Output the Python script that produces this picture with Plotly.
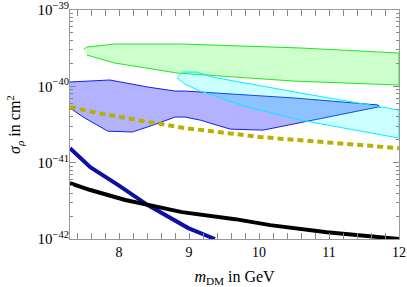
import plotly.graph_objects as go

# Green region (upper edge left->right, lower edge)
green_up_x = [7.50, 7.54, 7.94, 8.91, 10.59, 12.0]
green_up_y = [3.08e-40, 3.27e-40, 3.58e-40, 3.58e-40, 3.18e-40, 2.73e-40]
green_lo_x = [7.54, 7.94, 8.41, 8.84, 10.51, 12.0]
green_lo_y = [2.57e-40, 2.02e-40, 1.74e-40, 1.49e-40, 1.17e-40, 1.04e-40]

# Purple region
purple_up_x = [7.30, 7.87, 8.41, 8.80, 8.94, 10.51, 11.70, 11.73]
purple_up_y = [1.14e-40, 1.21e-40, 9.8e-41, 8.67e-41, 8.67e-41, 7.03e-41, 5.69e-41, 5.36e-41]
purple_lo_x = [7.30, 7.51, 7.84, 8.19, 8.49, 8.80, 8.94, 9.16, 9.59, 10.06, 10.59, 11.70]
purple_lo_y = [5.20e-41, 3.85e-41, 2.59e-41, 2.52e-41, 3.11e-41, 3.96e-41, 3.96e-41, 3.61e-41, 2.75e-41, 2.67e-41, 3.30e-41, 5.36e-41]

# Cyan region
cyan_up_x = [8.83, 8.91, 9.11, 9.34, 10.59, 12.0]
cyan_up_y = [1.32e-40, 1.54e-40, 1.54e-40, 1.32e-40, 8.17e-41, 4.89e-41]
cyan_lo_x = [8.83, 8.94, 9.16, 9.83, 10.59, 12.0]
cyan_lo_y = [1.29e-40, 1.07e-40, 8.67e-41, 5.36e-41, 3.61e-41, 2.10e-41]

# Dashed olive line
dash_x = [7.30, 7.70, 8.19, 8.61, 8.94, 10.01, 10.59, 12.0]
dash_y = [5.36e-41, 4.47e-41, 3.72e-41, 3.21e-41, 2.84e-41, 2.17e-41, 1.98e-41, 1.55e-41]

# Dark blue line
blue_x = [7.30, 7.59, 7.99, 8.41, 8.99, 9.37]
blue_y = [1.55e-41, 8.75e-42, 5.08e-42, 2.78e-42, 1.39e-42, 1.0e-42]

# Black line
black_x = [7.30, 7.59, 8.09, 8.41, 8.90, 9.66, 10.16, 10.97, 12.0]
black_y = [5.41e-42, 4.38e-42, 3.24e-42, 2.78e-42, 2.25e-42, 1.82e-42, 1.52e-42, 1.23e-42, 1.0e-42]

x_ticks = [8, 9, 10, 11, 12]
y_exps = [-42, -41, -40, -39]


def region(ux, uy, lx, ly, fill, line):
    return go.Scatter(x=ux + lx[::-1], y=uy + ly[::-1], mode="lines", fill="toself",
                      fillcolor=fill, line=dict(color=line, width=1), hoverinfo="skip",
                      showlegend=False)


fig = go.Figure()
fig.add_trace(region(green_up_x, green_up_y, green_lo_x, green_lo_y,
                     "rgba(0,255,0,0.2)", "rgb(30,230,30)"))
fig.add_trace(region(purple_up_x, purple_up_y, purple_lo_x, purple_lo_y,
                     "rgba(0,0,255,0.3)", "rgb(20,30,230)"))
fig.add_trace(region(cyan_up_x, cyan_up_y, cyan_lo_x, cyan_lo_y,
                     "rgba(0,255,255,0.2)", "rgb(0,240,250)"))
fig.add_trace(go.Scatter(x=dash_x, y=dash_y, mode="lines", showlegend=False,
                         line=dict(color="rgb(185,175,0)", width=4, dash="6px,4px")))
fig.add_trace(go.Scatter(x=blue_x, y=blue_y, mode="lines", showlegend=False,
                         line=dict(color="rgb(15,15,165)", width=4)))
fig.add_trace(go.Scatter(x=black_x, y=black_y, mode="lines", showlegend=False,
                         line=dict(color="black", width=4)))

# minor y ticks on overlay axis
minor_y = [m * 10.0 ** e for e in y_exps[:-1] for m in range(2, 10)]
fig.add_trace(go.Scatter(x=[None], y=[None], yaxis="y2", showlegend=False))

serif = "Liberation Serif, Times New Roman, serif"
xtf = dict(family=serif, size=14, color="black")
ytf = dict(family=serif, size=15, color="black")
ttf = dict(family=serif, size=16, color="black")
fig.update_layout(
    width=407, height=287,
    margin=dict(l=70, r=8, t=10, b=48),
    paper_bgcolor="white", plot_bgcolor="white",
    font=dict(family=serif, size=14, color="black"),
    xaxis=dict(range=[7.3, 12.0], tickvals=x_ticks, ticks="inside", ticklen=6,
               tickcolor="#888", showline=True, linecolor="#999", linewidth=1,
               mirror="allticks", showgrid=False, zeroline=False, automargin=False,
               ticklabeloverflow="allow",
               minor=dict(dtick=0.2, tick0=0, ticks="inside", ticklen=3, tickcolor="#888"),
               title=dict(text="<i>m</i><sub>DM</sub> in GeV", standoff=18, font=ttf),
               tickfont=xtf),
    yaxis=dict(type="log", range=[-42, -39],
               tickvals=[10.0 ** e for e in y_exps],
               ticktext=["10<sup>\u2212%d</sup>" % (-e) for e in y_exps],
               ticks="inside", ticklen=6, tickcolor="#888", automargin=False,
               ticklabeloverflow="allow", ticklabelstandoff=-3,
               showline=True, linecolor="#999", linewidth=1, mirror="allticks",
               showgrid=False, zeroline=False,
               title=dict(text="<i>\u03c3</i><sub><i>\u03c1</i></sub> in cm<sup>2</sup>", standoff=12, font=ttf),
               tickfont=ytf),
    yaxis2=dict(type="log", range=[-42, -39], overlaying="y", side="left",
                tickvals=minor_y, ticks="inside", ticklen=3, tickcolor="#888",
                showticklabels=False, showgrid=False, zeroline=False, automargin=False,
                showline=False, mirror="ticks"),
)

fig.write_html("out.html", config={"displayModeBar": False},
               post_script="document.body.style.margin='0';")
